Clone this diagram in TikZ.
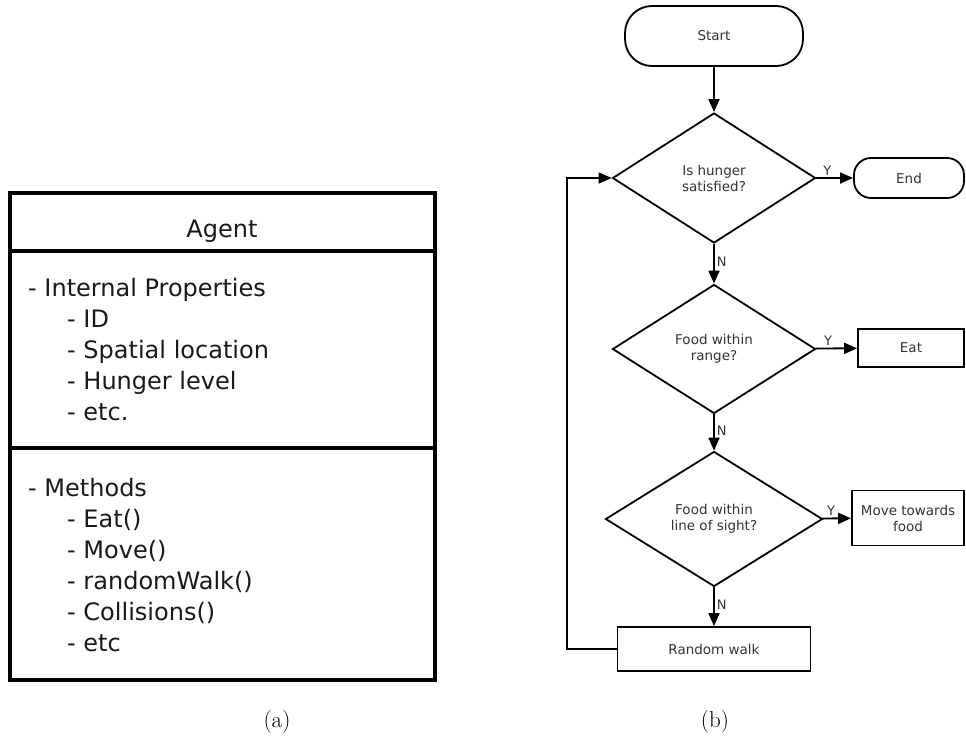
\documentclass[tikz,border=0pt]{standalone}
\usepackage{fontspec}
\newfontfamily\boxfont{DejaVu Sans}
\usetikzlibrary{shapes.geometric,arrows.meta}

\tikzset{
  flowline/.style={line width=1.8pt},
  arrow/.style={flowline,-{Triangle[length=13pt,width=11pt]}},
  flowtext/.style={font=\boxfont\fontsize{13.5}{16}\selectfont,text=black!80},
  decision/.style={diamond,draw,flowline,flowtext,inner sep=0pt,align=center},
  process/.style={rectangle,draw,flowline,flowtext,align=center},
  terminal/.style={rectangle,draw,flowline,flowtext,align=center},
  yn/.style={font=\boxfont\fontsize{13}{15}\selectfont,text=black!80,inner sep=2pt},
  umlbox/.style={rectangle,draw,line width=3.5pt,minimum width=425pt,inner sep=0pt,outer sep=0pt},
  umltext/.style={font=\boxfont\fontsize{24}{31}\selectfont,text=black!90,align=left,anchor=west,inner sep=0pt}
}

\begin{document}
\begin{tikzpicture}[x=1pt,y=-1pt]
  \useasboundingbox (0,0) rectangle (966,739);

  % (a) the agent as a class box
  \node[umlbox,minimum height=58pt,anchor=north west] (agent) at (10,193) {};
  \node[umlbox,minimum height=197pt,anchor=north] (props) at (agent.south) {};
  \node[umlbox,minimum height=232pt,anchor=north] (methods) at (props.south) {};
  \node[font=\boxfont\fontsize{24}{28}\selectfont,text=black!90] (agentname) at (222,231) {Agent};
  \node[umltext] (proplist) at (28,350) {- Internal Properties\\
    \hspace*{39pt}- ID\\
    \hspace*{39pt}- Spatial location\\
    \hspace*{39pt}- Hunger level\\
    \hspace*{39pt}- etc.};
  \node[umltext] (methodlist) at (28,565) {- Methods\\
    \hspace*{39pt}- Eat()\\
    \hspace*{39pt}- Move()\\
    \hspace*{39pt}- randomWalk()\\
    \hspace*{39pt}- Collisions()\\
    \hspace*{39pt}- etc};

  % (b) the flowchart
  \node[terminal,minimum width=178pt,minimum height=60pt,rounded corners=27pt] (start) at (714,36) {Start};
  \node[decision,minimum width=203pt,minimum height=130pt] (hunger) at (714,178) {Is hunger\\satisfied?};
  \node[terminal,minimum width=110pt,minimum height=40pt,rounded corners=17pt] (end) at (909,178) {End};
  \node[decision,minimum width=203pt,minimum height=129pt] (range) at (714,349) {Food within\\range?};
  \node[process,minimum width=106pt,minimum height=38pt] (eat) at (911,348) {Eat};
  \node[decision,minimum width=217pt,minimum height=135pt] (sight) at (714,519) {Food within\\line of sight?};
  \node[process,minimum width=112pt,minimum height=55pt] (move) at (908,518) {Move towards\\food};
  \node[process,minimum width=193pt,minimum height=44pt] (walk) at (714,649) {Random walk};
  \coordinate (corner) at (567,649);

  \draw[arrow] (start) -- (hunger);
  \draw[arrow] (hunger) -- node[yn,above,pos=0.3] {Y} (end);
  \draw[arrow] (hunger) -- node[yn,right,pos=0.45] {N} (range);
  \draw[arrow] (range) -- node[yn,above,pos=0.3] {Y} (eat);
  \draw[arrow] (range) -- node[yn,right,pos=0.45] {N} (sight);
  \draw[arrow] (sight) -- node[yn,above,pos=0.3] {Y} (move);
  \draw[arrow] (sight) -- node[yn,right,pos=0.45] {N} (walk);
  \draw[arrow] (walk.west) -- (corner) |- (hunger.west);

  % captions
  \node[font=\fontsize{23}{28}\selectfont] (capa) at (277,722) {(a)};
  \node[font=\fontsize{23}{28}\selectfont] (capb) at (715,722) {(b)};
\end{tikzpicture}
\end{document}
